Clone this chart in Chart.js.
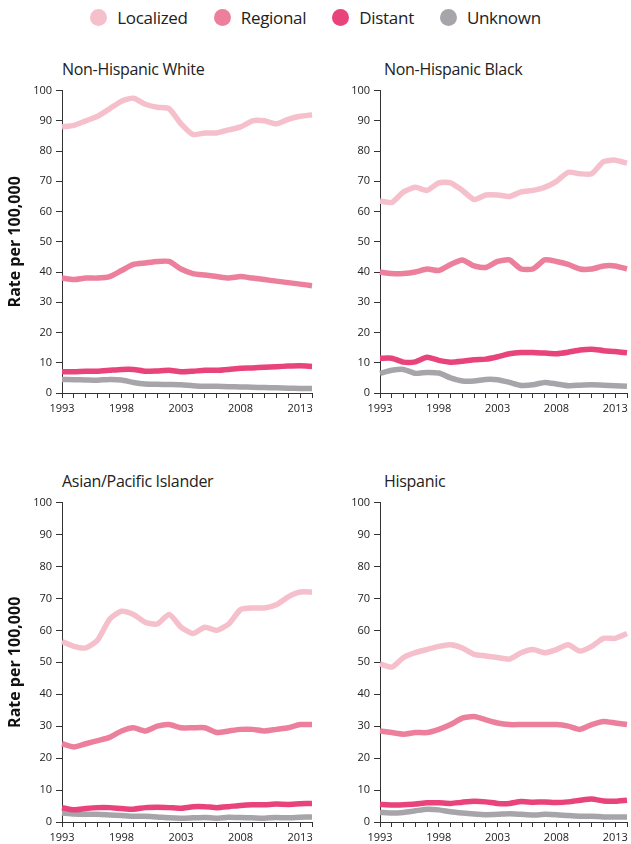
<!DOCTYPE html><html><head><meta charset="utf-8">
<script src="https://cdn.jsdelivr.net/npm/chart.js@4"></script>
<style>
body{margin:0;width:631px;height:844px;position:relative;overflow:hidden;background:#fff;font-family:"Open Sans",sans-serif;color:#222}
canvas{position:absolute}
.t{position:absolute;font-size:16px;letter-spacing:-0.3px}
#lg{position:absolute;top:6px;left:0;width:631px;text-align:center;font-size:17px;letter-spacing:-0.3px}
#lg span{display:inline-block;margin:0 13px}
#lg i{display:inline-block;width:17px;height:17px;border-radius:50%;vertical-align:-2px;margin-right:10px}
</style></head><body>
<div id="lg"></div>
<div class="t" style="left:62px;top:58px">Non-Hispanic White</div>
<div class="t" style="left:384px;top:58px">Non-Hispanic Black</div>
<div class="t" style="left:62px;top:470px">Asian/Pacific Islander</div>
<div class="t" style="left:384px;top:470px">Hispanic</div>
<canvas id="c0"></canvas><canvas id="c1"></canvas><canvas id="c2"></canvas><canvas id="c3"></canvas>
<script>
const years=[1993,1994,1995,1996,1997,1998,1999,2000,2001,2002,2003,2004,2005,2006,2007,2008,2009,2010,2011,2012,2013,2014];
const stages=["Localized","Regional","Distant","Unknown"];
const colors=["#f5c0cc","#ec7f9b","#e8437a","#a7a5aa"];
const groups=["Non-Hispanic White","Non-Hispanic Black","Asian/Pacific Islander","Hispanic"];
const whiteLocalized=[88,88.5,90,91.5,94,96.5,97.5,95.5,94.5,94,89,85.5,86,86,87,88,90,90,89,90.5,91.5,92];
const whiteRegional=[38,37.5,38,38,38.5,40.5,42.5,43,43.5,43.5,41,39.5,39,38.5,38,38.5,38,37.5,37,36.5,36,35.5];
const whiteDistant=[7,7,7.2,7.2,7.5,7.8,7.8,7.2,7.3,7.5,7,7.2,7.5,7.5,7.8,8.2,8.3,8.5,8.7,8.9,9,8.8];
const whiteUnknown=[4.5,4.4,4.3,4.2,4.5,4.3,3.5,3,2.9,2.8,2.7,2.4,2.2,2.2,2.1,2,1.9,1.8,1.7,1.6,1.5,1.5];
const blackLocalized=[63.5,63,66.5,68,67,69.5,69.5,67,64,65.5,65.5,65,66.5,67,68,70,73,72.5,72.5,76.5,77,76];
const blackRegional=[40,39.5,39.5,40,41,40.5,42.5,44,42,41.5,43.5,44,41,41,44,43.5,42.5,41,41,42,42,41];
const blackDistant=[11.5,11.5,10.2,10.3,11.8,10.8,10.2,10.5,11,11.2,12,13,13.4,13.4,13.2,13,13.5,14.2,14.5,14,13.7,13.3];
const blackUnknown=[6.5,7.5,7.8,6.5,6.8,6.6,5,4,4,4.5,4.4,3.5,2.5,2.7,3.5,3,2.4,2.6,2.7,2.6,2.4,2.2];
const apiLocalized=[56.5,55,54.5,57,63.5,66,65,62.5,62,65,61,59,61,60,62,66.5,67,67,68,70.5,72,72];
const apiRegional=[24.5,23.5,24.5,25.5,26.5,28.5,29.5,28.5,30,30.5,29.5,29.5,29.5,28,28.5,29,29,28.5,29,29.5,30.5,30.5];
const apiDistant=[4.5,3.8,4.2,4.5,4.5,4.2,4,4.5,4.6,4.5,4.3,4.8,4.8,4.5,4.8,5.2,5.4,5.4,5.6,5.5,5.7,5.8];
const apiUnknown=[2.8,2.5,2.4,2.4,2.2,2,1.8,1.8,1.6,1.3,1.2,1.3,1.4,1.2,1.5,1.4,1.3,1.2,1.4,1.3,1.5,1.6];
const hispLocalized=[49.5,48.5,51.5,53,54,55,55.5,54.5,52.5,52,51.5,51,53,54,53,54,55.5,53.5,55,57.5,57.5,59];
const hispRegional=[28.5,28,27.5,28,28,29,30.5,32.5,33,32,31,30.5,30.5,30.5,30.5,30.5,30,29,30.5,31.5,31,30.5];
const hispDistant=[5.5,5.3,5.4,5.6,6,6,5.8,6.2,6.5,6.3,5.8,5.8,6.4,6.2,6.3,6.1,6.3,6.8,7.2,6.6,6.5,6.8];
const hispUnknown=[3,2.8,3,3.5,4,3.8,3.2,2.8,2.5,2.3,2.4,2.6,2.4,2.2,2.4,2.3,2,1.8,1.8,1.6,1.6,1.6];
const yTicks=[0,10,20,30,40,50,60,70,80,90,100];
const panels=[[whiteLocalized,whiteRegional,whiteDistant,whiteUnknown],[blackLocalized,blackRegional,blackDistant,blackUnknown],[apiLocalized,apiRegional,apiDistant,apiUnknown],[hispLocalized,hispRegional,hispDistant,hispUnknown]];
document.getElementById('lg').innerHTML=stages.map((s,i)=>`<span><i style="background:${colors[i]}"></i>${s}</span>`).join('');
const pos=[[0,80,338,25],[318,80,338,25],[0,492,352,22],[318,492,352,22]];
panels.forEach((p,k)=>{
  const c=document.getElementById('c'+k);const [l,t,h,xh]=pos[k];
  c.style.left=l+'px';c.style.top=t+'px';c.style.width=(k%2?313:320)+'px';c.style.height=h+'px';
  new Chart(c,{type:'line',data:{labels:years,datasets:p.map((d,i)=>({label:stages[i],data:d,borderColor:colors[i],borderWidth:5.5,pointRadius:0,tension:0.2,fill:false}))},
  options:{responsive:false,animation:false,devicePixelRatio:1,
   layout:{padding:{top:8,right:k%2?2:8,left:6,bottom:0}},
   plugins:{legend:{display:false},tooltip:{enabled:false}},
   scales:{
    x:{offset:false,grid:{drawOnChartArea:false,tickLength:5,color:'#333'},border:{color:'#333'},
      afterFit:a=>{a.height=xh},
      ticks:{autoSkip:false,maxRotation:0,padding:4,color:'#222',font:{family:'Open Sans',size:11},callback:(v,i)=>(years[i]-1993)%5===0?years[i]:''}},
    y:{min:0,max:100,afterBuildTicks:a=>{a.ticks=yTicks.map(v=>({value:v}))},afterFit:a=>{a.width=56},
      grid:{drawOnChartArea:false,tickLength:6,color:'#333'},border:{color:'#333'},
      ticks:{padding:4,color:'#222',font:{family:'Open Sans',size:11}},
      title:{display:k%2===0,text:'Rate per 100,000',color:'#111',font:{family:'Open Sans',size:16,weight:'bold'},padding:0}}
   }}});
});
</script></body></html>
